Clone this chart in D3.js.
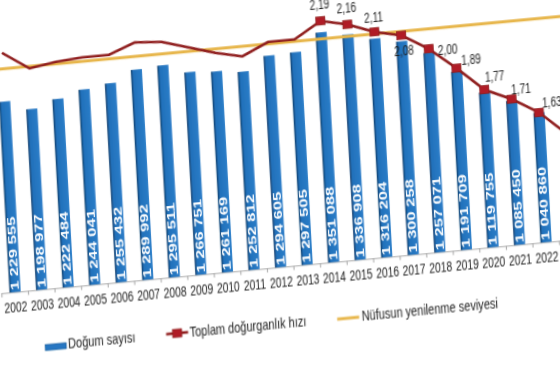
<!DOCTYPE html>
<html><head><meta charset="utf-8">
<script src="https://cdn.jsdelivr.net/npm/d3@7"></script>
<style>html,body{margin:0;padding:0;background:#fff;overflow:hidden}</style>
</head><body>
<svg id="c" width="560" height="380"></svg>
<script>
// ---- data ----
const years = [2002,2003,2004,2005,2006,2007,2008,2009,2010,2011,2012,2013,2014,2015,2016,2017,2018,2019,2020,2021,2022,2023];
const births = [1229555,1198977,1222484,1244041,1255432,1289992,1295511,1266751,1261169,1252812,1294605,1297505,1351088,1336908,1316204,1300258,1257071,1191709,1119755,1085450,1040860,958408];
const tfr = [2.18,2.09,2.11,2.12,2.12,2.17,2.16,2.12,2.08,2.05,2.11,2.11,2.19,2.16,2.11,2.08,2.00,1.89,1.77,1.71,1.63,1.51];
const replacementLevel = 2.10;
const tfrLabelFrom = 2014;
const legendLabels = ["Doğum sayısı","Toplam doğurganlık hızı","Nüfusun yenilenme seviyesi"];

// ---- styles / layout ----
const FONT = "'Liberation Sans', Arial, sans-serif";
const BASE = 292;
const SY = 1.4;
const labelOffset = {2014:[0,-12],2015:[0,-12],2016:[0,-10],2017:[2,20],2018:[19,7],2019:[15,-2.6],2020:[11,-7.6],2021:[10,-4.7],2022:[13.5,-4.2],2023:[13.5,-4.2]};
const fmtBirth = v => d3.format(",")(v).replace(/,/g," ");
const fmtTfr = v => d3.format(".2f")(v).replace(".",",");

const svg = d3.select("#c");
svg.append("rect").attr("width",560).attr("height",380).attr("fill","#fff");
const defs = svg.append("defs");
const grad = defs.append("linearGradient").attr("id","barGrad").attr("x1",0).attr("x2",1).attr("y1",0).attr("y2",0);
grad.append("stop").attr("offset","0%").attr("stop-color","#123f6b");
grad.append("stop").attr("offset","22%").attr("stop-color","#2271bb");
grad.append("stop").attr("offset","100%").attr("stop-color","#2b7dc8");
defs.append("filter").attr("id","soft").attr("x","-10%").attr("y","-10%").attr("width","120%").attr("height","120%")
  .append("feGaussianBlur").attr("stdDeviation",0.45);

const g = svg.append("g").attr("transform","matrix(1,-0.094,0.055,1,0,0)").attr("filter","url(#soft)");

const x = d3.scaleBand().domain(years).range([-14.3, 569.8]).paddingInner(0.58).paddingOuter(0.29);
const cx = yr => x(yr) + x.bandwidth()/2;
const yB = d3.scaleLinear().domain([640000, 1400000]).range([BASE, 46.3]);
const yT = d3.scaleLinear().domain([1.0, 2.5]).range([287.6, -10.9]);

const data = years.map((yr,i)=>({yr, b:births[i], t:tfr[i]}));

// axis line and ticks
const r = x.range(), step = x.step();
g.append("line").attr("x1",r[0]).attr("x2",r[1]).attr("y1",BASE+0.5).attr("y2",BASE+0.5).attr("stroke","#a8a8a8").attr("stroke-width",1);
g.selectAll(".tk").data(d3.range(years.length+1)).join("line")
  .attr("x1",i=>r[0]+i*step).attr("x2",i=>r[0]+i*step).attr("y1",BASE).attr("y2",BASE+4)
  .attr("stroke","#a8a8a8");

// bars
g.selectAll(".bar").data(data).join("rect")
  .attr("x",d=>x(d.yr)).attr("width",x.bandwidth())
  .attr("y",d=>yB(d.b)).attr("height",d=>BASE-yB(d.b))
  .attr("fill","url(#barGrad)");

// bar value labels
g.selectAll(".bl").data(data).join("text")
  .attr("transform",d=>`translate(${cx(d.yr)+3.9},${BASE-2}) scale(1,1.5) rotate(-90)`)
  .attr("font-family",FONT).attr("font-weight","bold").attr("font-size",11)
  .attr("fill","#fff").attr("text-anchor","start")
  .text(d=>fmtBirth(d.b));

// year labels
g.selectAll(".yl").data(data).join("text")
  .attr("transform",d=>`translate(${cx(d.yr)},312) scale(1,1.35)`)
  .attr("font-family",FONT).attr("font-size",10.3).attr("fill","#222").attr("text-anchor","middle")
  .text(d=>d.yr);

// replacement level
g.append("line").attr("x1",r[0]-10).attr("x2",r[1]+10)
  .attr("y1",yT(replacementLevel)).attr("y2",yT(replacementLevel))
  .attr("stroke","#e7b548").attr("stroke-width",3);

// TFR line
g.append("path").datum(data)
  .attr("d",d3.line().x(d=>cx(d.yr)).y(d=>yT(d.t)))
  .attr("fill","none").attr("stroke","#8e1b1b").attr("stroke-width",2.6).attr("stroke-linejoin","round");

const lab = data.filter(d=>d.yr>=tfrLabelFrom);
g.selectAll(".mk").data(lab).join("rect")
  .attr("x",d=>cx(d.yr)-4.5).attr("y",d=>yT(d.t)-4).attr("width",9).attr("height",8)
  .attr("fill","#b01f28").attr("stroke","#8e1b1b").attr("stroke-width",0.8);
g.selectAll(".tl").data(lab).join("text")
  .attr("transform",d=>{const o=labelOffset[d.yr]||[0,-12];return `translate(${cx(d.yr)+o[0]},${yT(d.t)+o[1]}) scale(1,${SY})`;})
  .attr("font-family",FONT).attr("font-size",10).attr("fill","#1e1e1e").attr("text-anchor","middle")
  .text(d=>fmtTfr(d.t));

// legend
const LY = 353;
const lg = g.append("g");
lg.append("rect").attr("x",26).attr("y",347).attr("width",21).attr("height",6).attr("fill","#2576c2").attr("stroke","#1a5a94").attr("stroke-width",0.6);
lg.append("line").attr("x1",147).attr("x2",169).attr("y1",348).attr("y2",348).attr("stroke","#8e1b1b").attr("stroke-width",2.6);
lg.append("rect").attr("x",153.5).attr("y",344).attr("width",9).attr("height",8).attr("fill","#b01f28").attr("stroke","#8e1b1b").attr("stroke-width",0.8);
lg.append("line").attr("x1",318).attr("x2",340).attr("y1",349).attr("y2",349).attr("stroke","#e7b548").attr("stroke-width",3);
const lx = [49, 170.5, 342.5];
lg.selectAll(".lt").data(legendLabels).join("text")
  .attr("transform",(d,i)=>`translate(${lx[i]},${LY}) scale(1,${SY})`)
  .attr("font-family",FONT).attr("font-size",11).attr("fill","#222")
  .text(d=>d);
</script>
</body></html>
